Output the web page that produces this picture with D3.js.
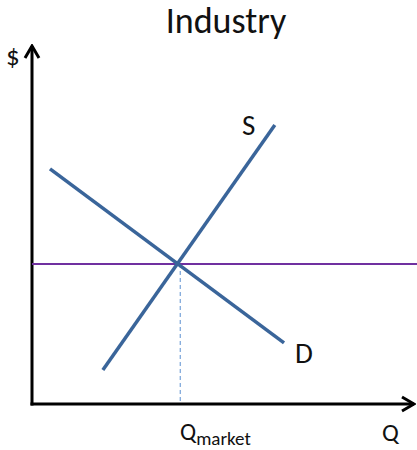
<!DOCTYPE html>
<html>
<head>
<meta charset="utf-8">
<script src="https://cdn.jsdelivr.net/npm/d3@7"></script>
<style>
  body { margin: 0; background: #fff; }
  svg { display: block; font-family: Calibri, Carlito, Lato, sans-serif; }
</style>
</head>
<body>
<div id="chart"></div>
<script>
// Industry supply & demand diagram
const demandQ = [0.47, 6.58];
const demandP = [6.55, 1.70];
const supplyQ = [1.85, 6.34];
const supplyP = [0.95, 7.77];
const marketPrice = 3.90;
const marketQ = 3.87;

const width = 417;
const height = 450;

const svg = d3.select('#chart')
  .append('svg')
  .attr('width', width)
  .attr('height', height);

// Scales
const xScale = d3.scaleLinear().domain([0, 10]).range([32, 415]);
const yScale = d3.scaleLinear().domain([0, 10]).range([404, 45]);

// Arrow markers
const defs = svg.append('defs');
defs.append('marker')
  .attr('id', 'arrow')
  .attr('markerUnits', 'userSpaceOnUse')
  .attr('viewBox', '-14 -9 16 18')
  .attr('refX', 0)
  .attr('refY', 0)
  .attr('markerWidth', 16)
  .attr('markerHeight', 18)
  .attr('orient', 'auto')
  .append('path')
  .attr('d', 'M-12,-7 L0,0 L-12,7')
  .attr('fill', 'none')
  .attr('stroke', '#000')
  .attr('stroke-width', 3);

// Axes
svg.append('line')
  .attr('x1', xScale(0)).attr('y1', yScale(0) + 1.5)
  .attr('x2', xScale(0)).attr('y2', yScale(10) + 1)
  .attr('stroke', '#000')
  .attr('stroke-width', 3)
  .attr('marker-end', 'url(#arrow)');

svg.append('line')
  .attr('x1', xScale(0) - 1.5).attr('y1', yScale(0))
  .attr('x2', xScale(10) - 1).attr('y2', yScale(0))
  .attr('stroke', '#000')
  .attr('stroke-width', 3)
  .attr('marker-end', 'url(#arrow)');

// Market price line
svg.append('line')
  .attr('x1', xScale(0)).attr('y1', yScale(marketPrice))
  .attr('x2', width).attr('y2', yScale(marketPrice))
  .attr('stroke', '#7030a0')
  .attr('stroke-width', 2.2);

// Dashed drop line to Q market
svg.append('line')
  .attr('x1', xScale(marketQ)).attr('y1', yScale(marketPrice))
  .attr('x2', xScale(marketQ)).attr('y2', yScale(0) - 1.5)
  .attr('stroke', '#5b8fd0')
  .attr('stroke-width', 1)
  .attr('stroke-dasharray', '4,3');

// Curves
const line = d3.line()
  .x(d => xScale(d[0]))
  .y(d => yScale(d[1]));

svg.append('path')
  .datum(d3.zip(demandQ, demandP))
  .attr('fill', 'none')
  .attr('stroke', '#3a659a')
  .attr('stroke-width', 3.5)
  .attr('d', line);

svg.append('path')
  .datum(d3.zip(supplyQ, supplyP))
  .attr('fill', 'none')
  .attr('stroke', '#3a659a')
  .attr('stroke-width', 3.5)
  .attr('d', line);

// Labels
svg.append('text')
  .attr('x', 226).attr('y', 33)
  .attr('text-anchor', 'middle')
  .style('font-size', '36px')
  .style('fill', '#111')
  .text('Industry');

svg.append('text')
  .attr('x', 6).attr('y', 65)
  .style('font-size', '27px')
  .style('fill', '#111')
  .text('$');

svg.append('text')
  .attr('x', 242).attr('y', 135)
  .style('font-size', '29px')
  .style('fill', '#111')
  .text('S');

svg.append('text')
  .attr('x', 295).attr('y', 363)
  .style('font-size', '29px')
  .style('fill', '#111')
  .text('D');

svg.append('text')
  .attr('x', 382).attr('y', 441)
  .style('font-size', '25px')
  .style('fill', '#111')
  .text('Q');

const qm = svg.append('text')
  .attr('x', 180).attr('y', 440)
  .style('font-size', '24px')
  .style('fill', '#111');
qm.append('tspan').text('Q');
qm.append('tspan')
  .attr('dy', 5)
  .style('font-size', '19px')
  .text('market');
</script>
</body>
</html>
